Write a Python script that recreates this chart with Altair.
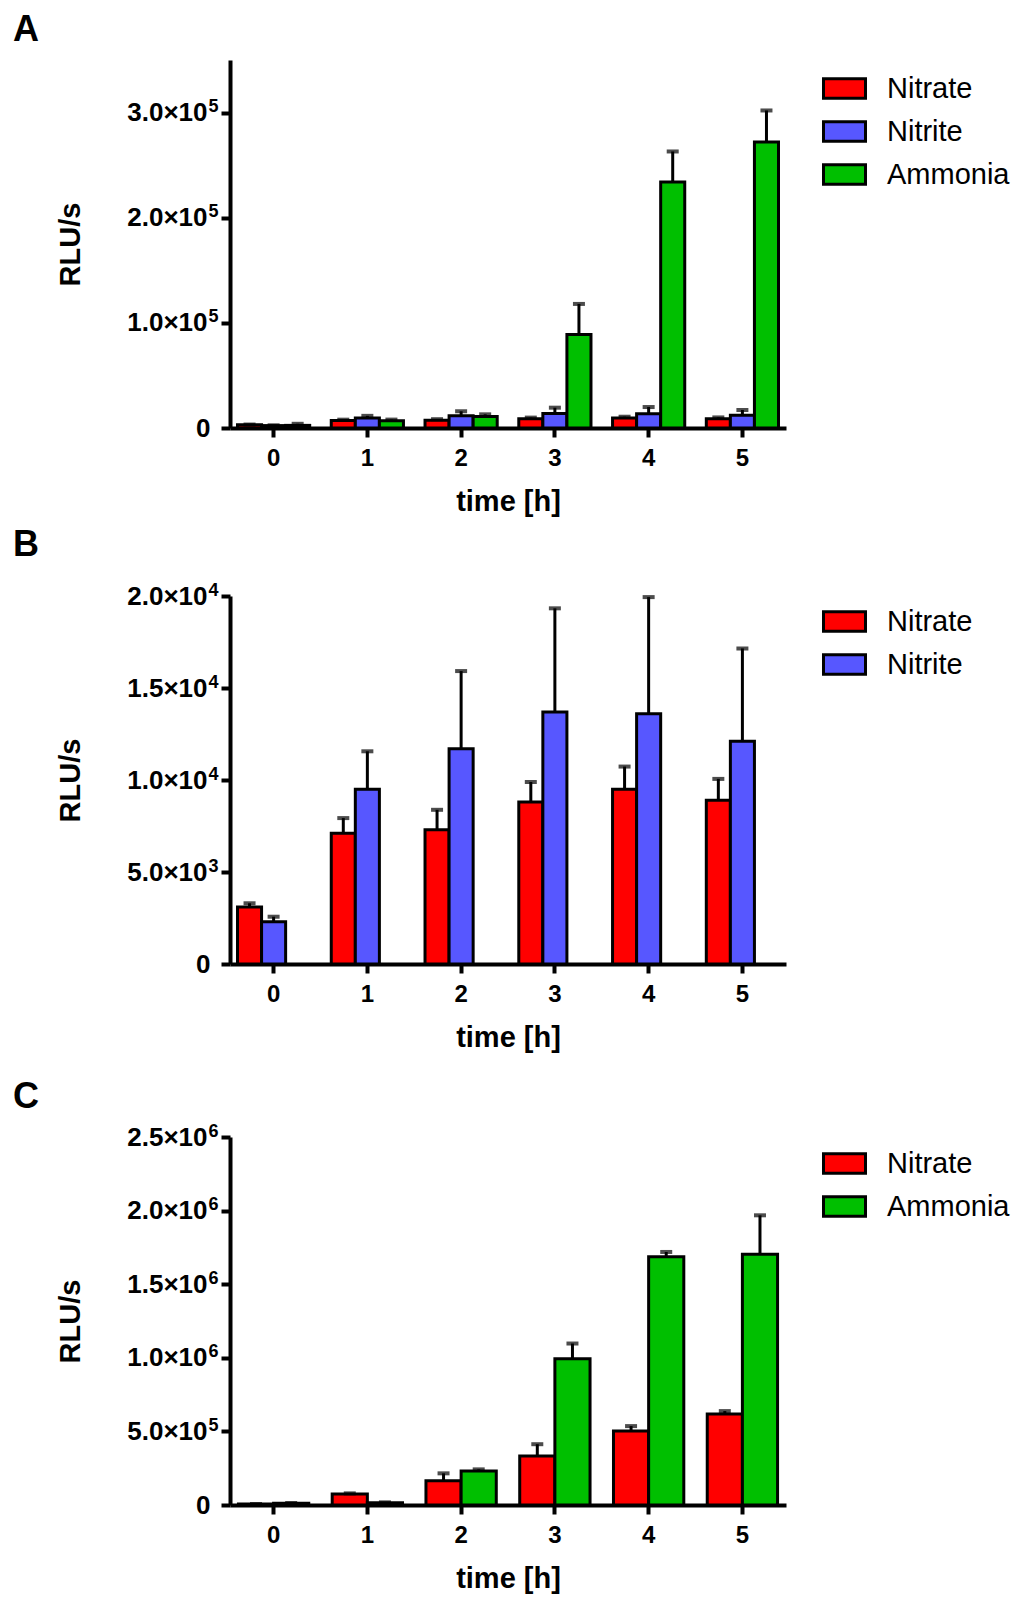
import altair as alt
import pandas as pd

# ---- data --------------------------------------------------------------------
times = ["0", "1", "2", "3", "4", "5"]

# panels A and B share the nitrate / nitrite series
nitrate_mean = [3100, 7100, 7300, 8800, 9500, 8900]
nitrate_err = [200, 830, 1080, 1090, 1230, 1160]
nitrite_mean = [2300, 9500, 11700, 13700, 13600, 12100]
nitrite_err = [270, 2060, 4220, 5630, 6340, 5050]
ammonia_mean = [2500, 7000, 11000, 89000, 234000, 272000]
ammonia_err = [1500, 1000, 2000, 29000, 29000, 30000]

# panel C
nitrate_c_mean = [6000, 75000, 165000, 333000, 502000, 618000]
nitrate_c_err = [1000, 4000, 50000, 80000, 34000, 20000]
ammonia_c_mean = [12000, 16000, 231000, 993000, 1686000, 1704000]
ammonia_c_err = [2000, 2000, 11000, 104000, 33000, 264000]

ALL_SERIES = ["Nitrate", "Nitrite", "Ammonia"]
COLORS = {"Nitrate": "#ff0000", "Nitrite": "#5757ff", "Ammonia": "#00bf00"}
FONT = "Liberation Sans"
W, H = 556, 368

# scientific tick labels: mantissa on the main axis, exponent on a 2nd axis
EXPONENT = "floor(log(datum.value) / LN10 + 1e-9)"
MANTISSA_EXPR = (
    f"datum.value == 0 ? '0' : format(datum.value / pow(10, {EXPONENT}), '.1f') + '×10'"
)
EXPONENT_EXPR = f"datum.value == 0 ? '' : '' + {EXPONENT}"


def frame(series):
    rows = []
    for name, means, errs in series:
        for t, m, e in zip(times, means, errs):
            rows.append({"time": t, "series": name, "mean": m, "upper": m + e})
    return pd.DataFrame(rows)


def panel(letter, series, slots, ymax, step, pad_inner, title_offset, legend_y):
    df = frame(series)
    names = [s[0] for s in series]
    ticks = [i * step for i in range(int(round(ymax / step)) + 1)]
    yscale = alt.Scale(domain=[0, ymax], nice=False)

    x = alt.X(
        "time:N",
        sort=times,
        scale=alt.Scale(paddingInner=pad_inner, paddingOuter=(pad_inner - 0.07) / 2),
        axis=alt.Axis(
            title="time [h]",
            labelAngle=0,
            labelFontSize=24,
            labelFontWeight="bold",
            labelPadding=9,
            titleFontSize=29,
            titleFontWeight="bold",
            titlePadding=17,
            domainWidth=4,
            tickWidth=4,
            tickSize=9,
        ),
    )
    xo = alt.XOffset("series:N", sort=slots, scale=alt.Scale(domain=slots))

    y_axis = alt.Axis(
        title="RLU/s",
        values=ticks,
        labelExpr=MANTISSA_EXPR,
        labelFontSize=26,
        labelFontWeight="bold",
        labelPadding={"condition": {"test": "datum.value == 0", "value": 11}, "value": 14},
        titleFontSize=29,
        titleFontWeight="bold",
        titleAngle=-90,
        titleBaseline="middle",
        titleX=-160,
        titleY=H / 2,
        domainWidth=4,
        tickWidth=4,
        tickSize=9,
    )
    exp_axis = alt.Axis(
        orient="left",
        title=None,
        values=ticks,
        labelExpr=EXPONENT_EXPR,
        labelFontSize=18,
        labelFontWeight="bold",
        labelPadding=12,
        labelOffset=-6,
        domain=False,
        ticks=False,
    )

    base = alt.Chart(df)
    bars = base.mark_bar(stroke="black", strokeWidth=3).encode(
        x=x,
        xOffset=xo,
        y=alt.Y("mean:Q", scale=yscale, axis=y_axis),
        color=alt.Color(
            "series:N",
            sort=names,
            scale=alt.Scale(domain=names, range=[COLORS[n] for n in names]),
            legend=alt.Legend(
                title=None,
                orient="none",
                legendX=592,
                legendY=legend_y,
                padding=0,
                symbolType="M-1,-0.47H1V0.47H-1Z",
                symbolSize=1764,
                symbolStrokeColor="black",
                symbolStrokeWidth=3,
                symbolOpacity=1,
                labelFont=FONT,
                labelFontSize=29,
                labelOffset=20,
                rowPadding=4,
            ),
        ),
    )
    whisker = base.mark_rule(color="black", strokeWidth=3).encode(
        x=x, xOffset=xo, y=alt.Y("mean:Q", scale=yscale, axis=None), y2="upper:Q"
    )
    cap = base.mark_tick(color="black", thickness=4, size=12).encode(
        x=x, xOffset=xo, y=alt.Y("upper:Q", scale=yscale, axis=None)
    )
    exponent = base.mark_point(opacity=0).encode(
        y=alt.Y("upper:Q", scale=yscale, axis=exp_axis)
    )
    return (
        alt.layer(bars, whisker, cap, exponent)
        .resolve_axis(y="independent")
        .properties(
            width=W,
            height=H,
            title=alt.TitleParams(
                letter,
                anchor="start",
                frame="group",
                dx=-217,
                offset=title_offset,
                fontSize=36,
                fontWeight="bold",
                font=FONT,
                lineHeight=16,
            ),
        )
    )


panel_a = panel(
    "A",
    [("Nitrate", nitrate_mean, nitrate_err),
     ("Nitrite", nitrite_mean, nitrite_err),
     ("Ammonia", ammonia_mean, ammonia_err)],
    ALL_SERIES, 350000, 100000, 0.23, 11, 6,
)
panel_b = panel(
    "B",
    [("Nitrate", nitrate_mean, nitrate_err),
     ("Nitrite", nitrite_mean, nitrite_err)],
    ALL_SERIES, 20000, 5000, 0.23, 17, 3,
)
panel_c = panel(
    ["", "C"],
    [("Nitrate", nitrate_c_mean, nitrate_c_err),
     ("Ammonia", ammonia_c_mean, ammonia_c_err)],
    ["Nitrate", "Ammonia"], 2500000, 500000, 0.25, 6, 4,
)

chart = (
    alt.vconcat(panel_a, panel_b, panel_c, spacing=11)
    .resolve_scale(color="independent", xOffset="independent", x="independent", y="independent")
    .resolve_legend(color="independent")
    .properties(padding={"left": 5, "top": 4, "right": 5, "bottom": 5})
    .configure_view(strokeWidth=0)
    .configure_axis(
        grid=False,
        labelFont=FONT,
        titleFont=FONT,
        labelColor="black",
        titleColor="black",
        domainColor="black",
        tickColor="black",
    )
)

chart.save("out.html", embed_options={"renderer": "svg", "actions": False})
